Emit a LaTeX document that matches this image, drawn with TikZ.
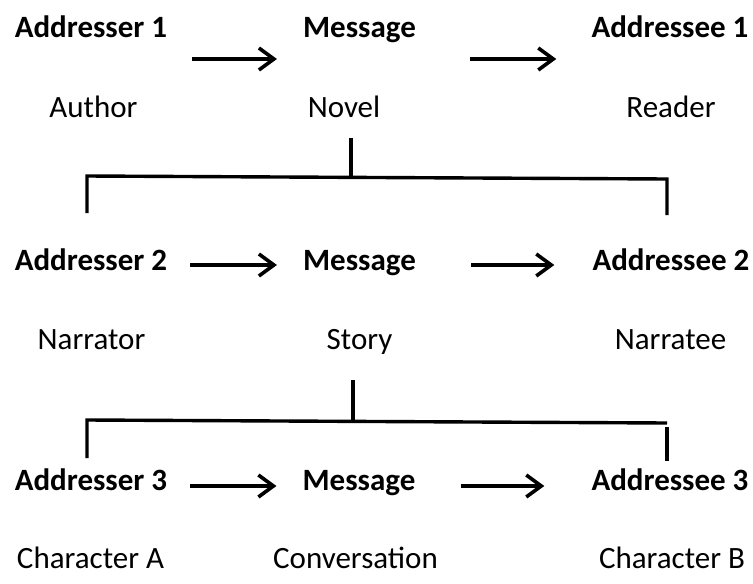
\documentclass[tikz,border=0pt]{standalone}
\usepackage{fontspec}
\setmainfont{Carlito}
\usetikzlibrary{arrows.meta,calc}
\begin{document}
\begin{tikzpicture}[x=1pt,y=-1pt,
  role/.style={font=\fontsize{31}{36}\selectfont\bfseries, inner sep=0pt, anchor=base},
  item/.style={font=\fontsize{31}{36}\selectfont, inner sep=0pt, anchor=base},
  flow/.style={line width=3.6pt, -{Straight Barb[length=15pt,width=22pt,line width=3.6pt]}},
  bar/.style={line width=3.4pt}]
\useasboundingbox (0,0) rectangle (753,584);

% level 1: author -> novel -> reader
\node[role] (a1) at (91,37)    {Addresser 1};
\node[role] (m1) at (359.5,37) {Message};
\node[role] (e1) at (670,37)   {Addressee 1};
\node[item] (p1) at (93.5,117) {Author};
\node[item] (n1) at (344,117)  {Novel};
\node[item] (r1) at (671,117)  {Reader};

% level 2: narrator -> story -> narratee
\node[role] (a2) at (91,270)    {Addresser 2};
\node[role] (m2) at (359.5,270) {Message};
\node[role] (e2) at (671,270)   {Addressee 2};
\node[item] (p2) at (91.5,349)  {Narrator};
\node[item] (n2) at (359.5,349) {Story};
\node[item] (r2) at (670.5,349) {Narratee};

% level 3: character A -> conversation -> character B
\node[role] (a3) at (91,490)    {Addresser 3};
\node[role] (m3) at (359,490)   {Message};
\node[role] (e3) at (670,490)   {Addressee 3};
\node[item] (p3) at (90.5,568)  {Character A};
\node[item] (n3) at (355.5,568) {Conversation};
\node[item] (r3) at (672,568)   {Character B};

% flow arrows
\draw[flow] ($(a1.base east)+(25,22)$) -- ($(m1.base west)+(-26,22)$);
\draw[flow] ($(m1.base east)+(54,22)$) -- ($(e1.base west)+(-35,22)$);
\draw[flow] ($(a2.base east)+(23,-5)$) -- ($(m2.base west)+(-26,-5)$);
\draw[flow] ($(m2.base east)+(55,-5)$) -- ($(e2.base west)+(-38,-5)$);
\draw[flow] ($(a3.base east)+(23,-4)$) -- ($(m3.base west)+(-26,-4)$);
\draw[flow] ($(m3.base east)+(45,-4)$) -- ($(e3.base west)+(-47,-4)$);

% bracket from the novel down to level 2
\coordinate (s1) at (351,138);
\coordinate (j1) at (351,177);
\coordinate (l1) at (87,176);
\coordinate (r1c) at (667,179);
\draw[bar] (s1) -- (j1);
\draw[bar] (l1 |- 0,213) -- (l1) -- (r1c) -- (r1c |- 0,215);

% bracket from the story down to level 3
\coordinate (s2) at (353,380);
\coordinate (j2) at (353,421);
\coordinate (l2) at (87,420);
\coordinate (r2c) at (667,423);
\draw[bar] (s2) -- (j2);
\draw[bar] (l2 |- 0,458) -- (l2) -- (r2c);
\draw[bar] (r2c |- 0,427) -- (r2c |- 0,461);
\end{tikzpicture}
\end{document}
